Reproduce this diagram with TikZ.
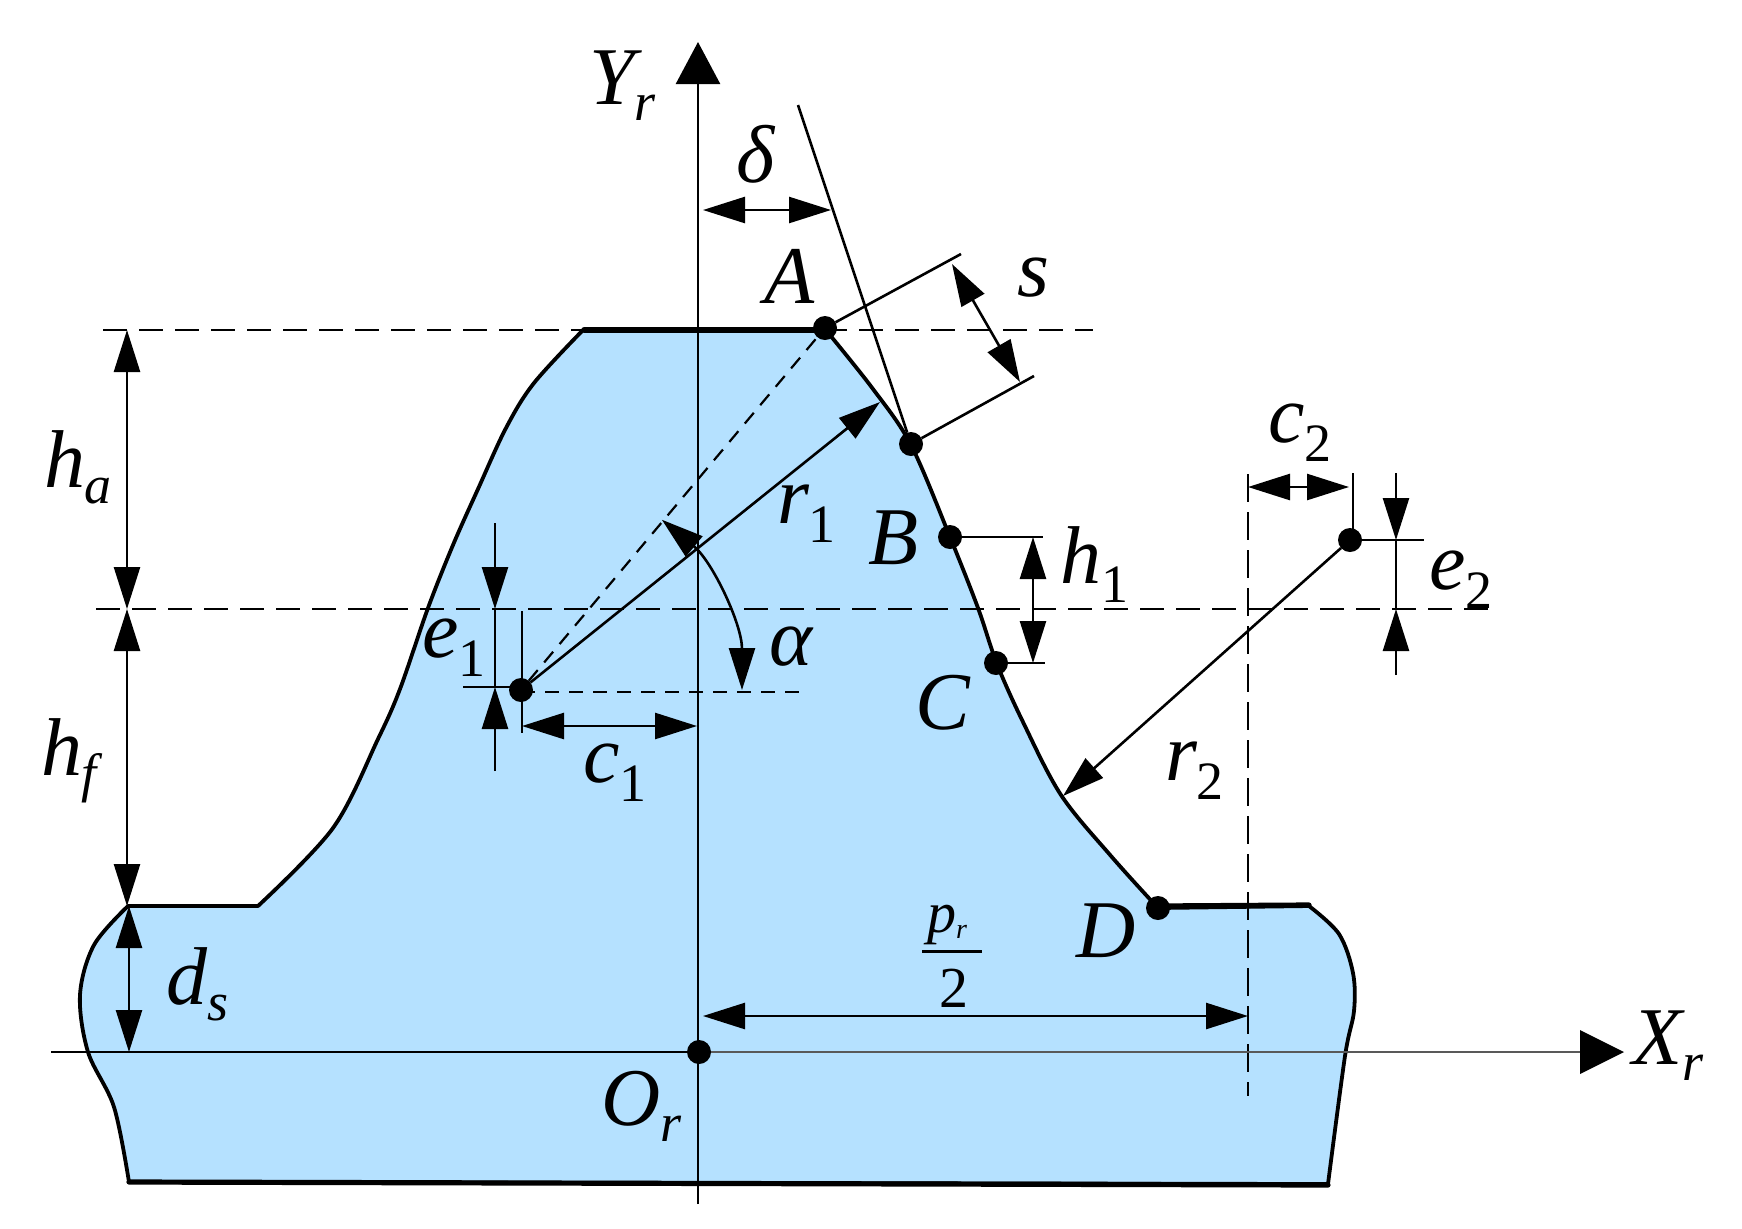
\documentclass[tikz,border=0pt]{standalone}
\usepackage{fontspec}
\setmainfont{Liberation Serif}
\usetikzlibrary{arrows.meta}
\definecolor{toothblue}{RGB}{181,225,255}
\newcommand\subd[1]{\raisebox{-9.5pt}{\fontsize{27}{27}\selectfont\upshape #1}}
\newcommand\subi[1]{\raisebox{-8pt}{\fontsize{27}{27}\selectfont\itshape #1}}
\tikzset{
  lab/.style={anchor=base west,inner sep=0pt,outer sep=0pt,xshift=-1.5pt,font=\fontsize{41}{41}\selectfont\itshape},
  fraclab/.style={anchor=base west,inner sep=0pt,outer sep=0pt,font=\fontsize{29}{29}\selectfont},
  dot/.style={circle,fill=black,inner sep=0pt,outer sep=0pt,minimum size=12pt},
  thin line/.style={line width=1.3pt},
  profile/.style={line width=1.9pt,line join=round},
  heavy/.style={line width=2.6pt,line cap=round},
  longdash/.style={line width=1.1pt,dash pattern=on 12pt off 6pt},
  shortdash/.style={line width=1.1pt,dash pattern=on 7pt off 5pt},
  vertdash/.style={line width=1.1pt,dash pattern=on 14pt off 5pt},
  dim/.style={thin line,{Triangle[length=21pt,width=13pt]}-{Triangle[length=21pt,width=13pt]}},
  tipend/.style={thin line,-{Triangle[length=21pt,width=13pt]}},
  yaxis/.style={thin line,-{Triangle[length=21pt,width=22pt]}}
}
\begin{document}
\begin{tikzpicture}[x=0.5pt,y=-0.5pt]
\useasboundingbox (0,0) rectangle (1742,1228);
\fill[white] (0,0) rectangle (1742,1228);

% tooth
\filldraw[fill=toothblue,draw=black,profile]
  (584,329) -- (825,329)
  -- plot[smooth,tension=.55] coordinates {(825,329) (873,389) (911,445) (950,537) (978,608) (997,664) (1023,722) (1061,795) (1111,856) (1158,908)}
  -- (1309,906)
  -- plot[smooth,tension=.55] coordinates {(1309,906) (1339,934) (1353,973) (1354,1011) (1345,1056) (1328,1184)}
  -- (129,1182)
  -- plot[smooth,tension=.55] coordinates {(129,1182) (114,1107) (88,1052) (80,995) (94,945) (128,906)}
  -- (258,906)
  -- plot[smooth,tension=.55] coordinates {(258,906) (333,828) (378,739) (400,689) (428,608) (453,545) (478,489) (506,428) (534,383) (584,329)};
\draw[heavy] (584,330) -- (815,330);
\draw[heavy] (1158,906) -- (1309,905);
\draw[heavy] (129,1182) -- (1328,1185);

% points
\node[dot] (A) at (825,328) {};
\node[dot] (Bt) at (911,444) {};
\node[dot] (B) at (950,537) {};
\node[dot] (C) at (996,663) {};
\node[dot] (D) at (1158,908) {};
\node[dot] (Pa) at (521,690) {};
\node[dot] (Pb) at (1350,540) {};
\node[dot] (O) at (699,1052) {};

% free ends
\coordinate (ytop) at (698,42);
\coordinate (ybot) at (698,1204);
\coordinate (xl) at (51,1052);
\coordinate (xr) at (1624,1052);
\coordinate (dtop) at (798,105);
\coordinate (sa) at (961,254);
\coordinate (sb) at (1034,376);
\coordinate (sta) at (952,264);
\coordinate (stb) at (1020,382);
\coordinate (ta) at (103,330);
\coordinate (tb) at (1093,330);
\coordinate (pl) at (96,609);
\coordinate (pr) at (1488,609);
\coordinate (hta) at (127,330);
\coordinate (htb) at (127,609);
\coordinate (hfb) at (127,906);
\coordinate (dsa) at (129,906);
\coordinate (dsb) at (129,1052);
\coordinate (dla) at (703,210);
\coordinate (dlb) at (831,210);
\coordinate (r1t) at (880,402);
\coordinate (r2t) at (1063,796);
\coordinate (hz) at (800,692);
\coordinate (hy) at (521,692);
\coordinate (ea) at (495,523);
\coordinate (eb) at (495,771);
\coordinate (eat) at (495,609);
\coordinate (ebt) at (495,687);
\coordinate (etk) at (463,687);
\coordinate (etj) at (521,687);
\coordinate (cva) at (522,611);
\coordinate (cvb) at (522,733);
\coordinate (cla) at (522,726);
\coordinate (clb) at (697,726);
\coordinate (pa) at (703,1016);
\coordinate (pb) at (1248,1016);
\coordinate (va) at (1248,474);
\coordinate (vb) at (1248,1096);
\coordinate (c2a) at (1248,487);
\coordinate (c2b) at (1349,487);
\coordinate (c2v) at (1353,473);
\coordinate (c2w) at (1353,540);
\coordinate (e2a) at (1396,473);
\coordinate (e2b) at (1396,675);
\coordinate (e2at) at (1396,540);
\coordinate (e2bt) at (1396,609);
\coordinate (e2k) at (1424,540);
\coordinate (h1a) at (1033,537);
\coordinate (h1b) at (1033,663);
\coordinate (bk) at (1043,537);
\coordinate (ck) at (1045,663);
\coordinate (fa) at (922,951.5);
\coordinate (fb) at (982,951.5);
\coordinate (xh) at (1582,1052);

% dashed references
\draw[longdash] (ta) -- (tb);
\draw[longdash] (pl) -- (pr);
\draw[vertdash] (va) -- (vb);
\draw[shortdash] (Pa) -- (A);
\draw[shortdash] (hy) -- (hz);

% axes
\draw[yaxis] (ybot) -- (ytop);
\draw[thin line] (xl) -- (O);
\draw[thin line,black!65] (O) -- (xh);
\fill[black] (1580,1030) -- (xr) -- (1580,1074) -- cycle;

% construction lines
\draw[thin line] (dtop) -- (Bt);
\draw[thin line] (A) -- (sa);
\draw[thin line] (Bt) -- (sb);
\draw[thin line] (B) -- (bk);
\draw[thin line] (C) -- (ck);
\draw[thin line] (etk) -- (etj);
\draw[thin line] (cva) -- (cvb);
\draw[thin line] (c2v) -- (c2w);
\draw[thin line] (Pb) -- (e2k);

% dimensions
\draw[dim] (hta) -- (htb);
\draw[dim] (htb) -- (hfb);
\draw[dim] (dsa) -- (dsb);
\draw[dim] (dla) -- (dlb);
\draw[dim] (sta) -- (stb);
\draw[dim] (cla) -- (clb);
\draw[dim] (pa) -- (pb);
\draw[dim] (c2a) -- (c2b);
\draw[dim] (h1a) -- (h1b);
\draw[tipend] (Pa) -- (r1t);
\draw[tipend] (Pb) -- (r2t);
\draw[tipend] (ea) -- (eat);
\draw[tipend] (eb) -- (ebt);
\draw[thin line] (eat) -- (ebt);
\draw[tipend] (e2a) -- (e2at);
\draw[tipend] (e2b) -- (e2bt);
\draw[thin line] (e2at) -- (e2bt);
\draw[dim] (742,690) arc[start angle=0,end angle=-50.4,radius=221];
\draw[thin line] (fa) -- (fb);

% labels
\node[lab] (lY) at (592,104) {Y\subi{r}};
\node[lab] (ld) at (739,182) {δ};
\node[lab] (lA) at (767,303) {A};
\node[lab] (lha) at (47,487) {h\subi{a}};
\node[lab] (lr1) at (780,523) {r\subd{1}};
\node[lab] (le1) at (425,657) {e\subd{1}};
\node[lab] (lal) at (772,665) {α};
\node[lab] (lc1) at (586,782) {c\subd{1}};
\node[lab] (lhf) at (44,775) {h\subi{f}};
\node[lab] (lds) at (169,1004) {d\subi{s}};
\node[lab] (lO) at (604,1125) {O\subi{r}};
\node[lab] (ls) at (1020,296) {s};
\node[lab] (lc2) at (1271,442) {c\subd{2}};
\node[lab] (lB) at (871,564) {B};
\node[lab] (lh1) at (1063,583) {h\subd{1}};
\node[lab] (le2) at (1432,589) {e\subd{2}};
\node[lab] (lC) at (918,729) {C};
\node[lab] (lr2) at (1168,780) {r\subd{2}};
\node[lab] (lD) at (1079,957) {D};
\node[fraclab] (lp) at (927,932) {\textit{p}\raisebox{-3pt}{\fontsize{14}{14}\selectfont\itshape r}};
\node[fraclab] (l2) at (939,1007) {2};
\node[lab] (lX) at (1635,1064) {X\subi{r}};
\end{tikzpicture}
\end{document}
